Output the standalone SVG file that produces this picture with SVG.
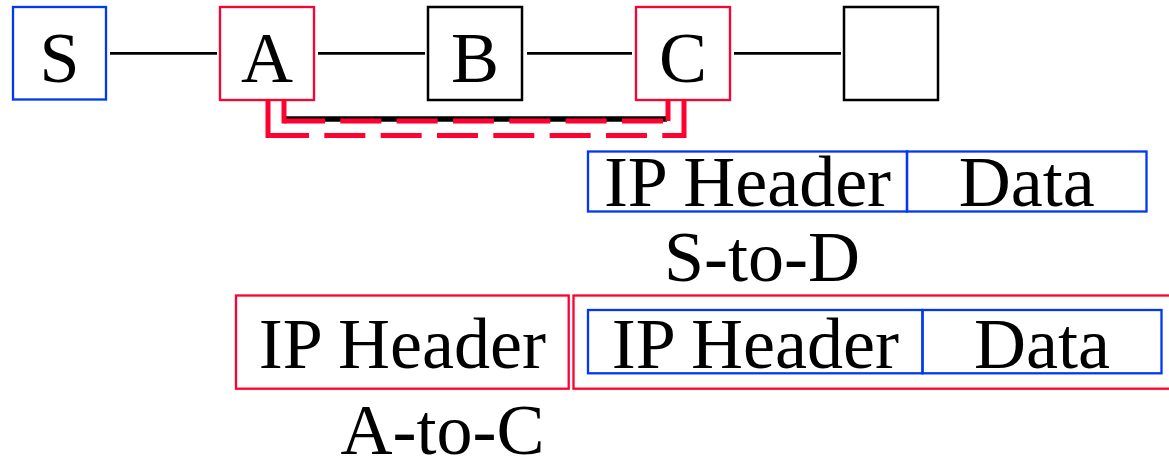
<svg xmlns="http://www.w3.org/2000/svg" width="1169" height="461" viewBox="0 0 1169 461">
<style>
.t{font-family:"Liberation Serif","Times New Roman",serif;font-size:72px;fill:#000;text-anchor:middle}
.blue{fill:none;stroke:#0038f5;stroke-width:2.3}
.red{fill:none;stroke:#ff0030;stroke-width:2.3}
.blk{fill:none;stroke:#000;stroke-width:2.5}
.link{stroke:#000;stroke-width:2.8;fill:none}
.tun{fill:none;stroke:#ff0030;stroke-width:5;stroke-linecap:butt}
.dash{stroke-dasharray:41 15.33}
</style>
<rect width="1169" height="461" fill="#fff"/>
<g id="connectors">
<line class="link" x1="110" y1="53.3" x2="217" y2="53.3"/>
<line class="link" x1="318" y1="53.3" x2="425" y2="53.3"/>
<line class="link" x1="527" y1="53.3" x2="632" y2="53.3"/>
<line class="link" x1="734" y1="53.3" x2="841" y2="53.3"/>
<g id="tunnel">
<line x1="285" y1="119" x2="667" y2="119" stroke="#000" stroke-width="5.3"/>
<line class="tun" x1="284" y1="101" x2="284" y2="123.5"/>
<line class="tun dash" x1="284" y1="121" x2="668" y2="121"/>
<line class="tun" x1="668" y1="101" x2="668" y2="121"/>
<line class="tun" x1="268" y1="101" x2="268" y2="138"/>
<line class="tun dash" x1="268" y1="135.5" x2="684" y2="135.5"/>
<line class="tun" x1="684" y1="101" x2="684" y2="138"/>
</g>
</g>
<g id="node-S"><rect class="blue" x="13" y="7" width="93" height="92.5"/><text class="t" x="59.5" y="82">S</text></g>
<g id="node-A"><rect class="red" x="220" y="7" width="94" height="93"/><text class="t" x="267" y="82">A</text></g>
<g id="node-B"><rect class="blk" x="428" y="7" width="94" height="93"/><text class="t" x="475" y="82">B</text></g>
<g id="node-C"><rect class="red" x="636" y="7" width="94" height="93"/><text class="t" x="683" y="82">C</text></g>
<g id="node-D"><rect class="blk" x="844" y="7" width="94" height="93"/></g>
<g id="packet-S-to-D">
<rect class="blue" x="588" y="151.5" width="319" height="60"/>
<rect class="blue" x="907" y="151.5" width="239.5" height="60"/>
<text class="t" x="747.5" y="206">IP Header</text>
<text class="t" x="1026.8" y="206">Data</text>
<text class="t" x="762" y="281">S-to-D</text>
</g>
<g id="packet-A-to-C">
<rect class="red" x="236" y="295.5" width="332.7" height="93.2"/>
<rect class="red" x="573.5" y="295.5" width="620" height="93.2"/>
<text class="t" x="402.3" y="368">IP Header</text>
<rect class="blue" x="588" y="310" width="334.5" height="63.3"/>
<rect class="blue" x="922.5" y="310" width="239" height="63.3"/>
<text class="t" x="755.3" y="367.5">IP Header</text>
<text class="t" x="1042" y="367.5">Data</text>
<text class="t" x="442.5" y="454">A-to-C</text>
</g>
</svg>
